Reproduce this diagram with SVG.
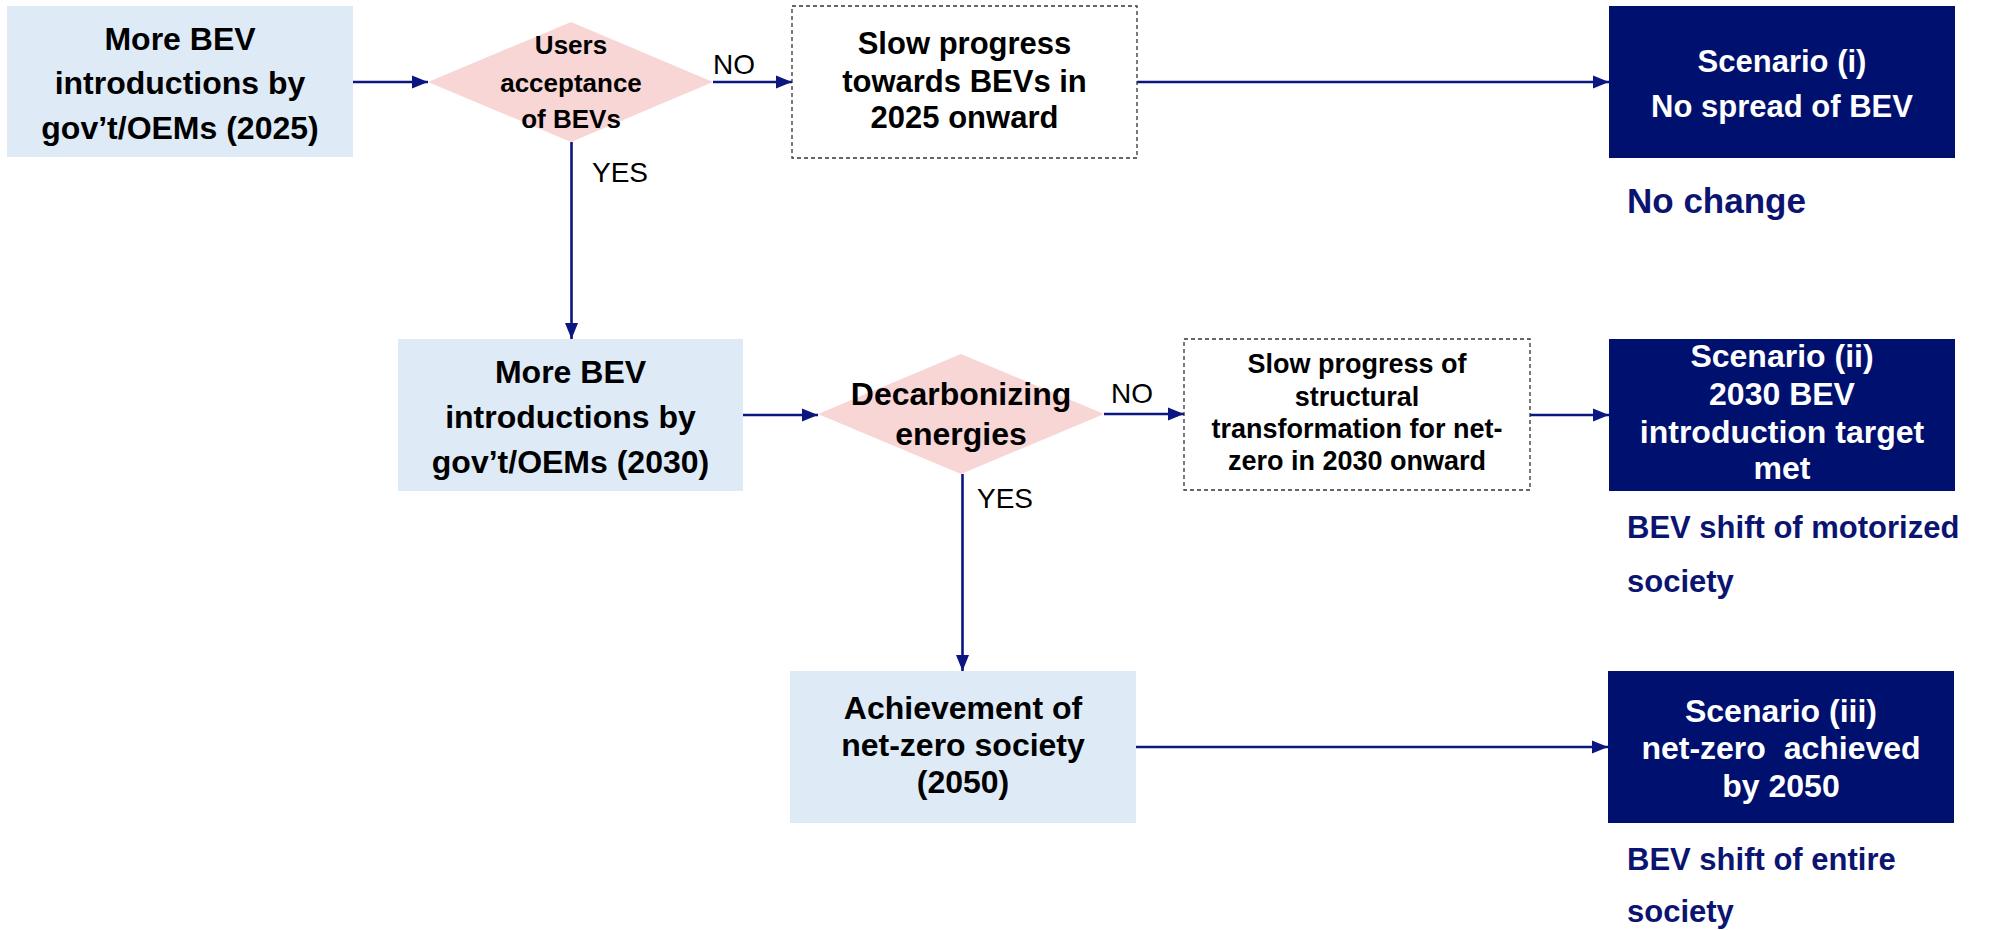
<svg xmlns="http://www.w3.org/2000/svg" width="1993" height="930" viewBox="0 0 1993 930">
<defs>
<marker id="ah" markerUnits="userSpaceOnUse" markerWidth="16" markerHeight="14" refX="16" refY="7" orient="auto">
<path d="M0,0.5 L16,7 L0,13.5 z" fill="#0B1680"/>
</marker>
<style>
text{font-family:"Liberation Sans",Arial,sans-serif;text-anchor:middle}
.b{font-weight:bold;fill:#000}
.w{font-weight:bold;fill:#fff}
.lbl{font-size:28px;fill:#000;text-anchor:start}
.out{font-weight:bold;fill:#0B1470;text-anchor:start;font-size:31px}
.lb{fill:#DEEBF7}
.dm{fill:#F7D6D5}
.dash{fill:#fff;stroke:#333;stroke-width:1.3;stroke-dasharray:4 3}
.sc{fill:#00106E}
.cn{stroke:#0B1680;stroke-width:2.6;fill:none}
</style>
</defs>
<rect width="1993" height="930" fill="#fff"/>
<g id="connectors">
<line class="cn" x1="353" y1="82" x2="428" y2="82" marker-end="url(#ah)"/>
<line class="cn" x1="713" y1="82" x2="792" y2="82" marker-end="url(#ah)"/>
<line class="cn" x1="1137" y1="82" x2="1609" y2="82" marker-end="url(#ah)"/>
<line class="cn" x1="571.5" y1="142" x2="571.5" y2="339" marker-end="url(#ah)"/>
<line class="cn" x1="743" y1="415" x2="818" y2="415" marker-end="url(#ah)"/>
<line class="cn" x1="1104" y1="414" x2="1184" y2="414" marker-end="url(#ah)"/>
<line class="cn" x1="1530" y1="415" x2="1609" y2="415" marker-end="url(#ah)"/>
<line class="cn" x1="962.5" y1="474" x2="962.5" y2="671" marker-end="url(#ah)"/>
<line class="cn" x1="1136" y1="747" x2="1608" y2="747" marker-end="url(#ah)"/>
<text class="lbl" x="713" y="74">NO</text>
<text class="lbl" x="592" y="182">YES</text>
<text class="lbl" x="1111" y="403">NO</text>
<text class="lbl" x="977" y="508">YES</text>
</g>
<g id="box1">
<rect class="lb" x="7" y="6" width="346" height="151"/>
<text class="b" font-size="32"><tspan x="180" y="50">More BEV</tspan><tspan x="180" y="94">introductions by</tspan><tspan x="180" y="139">gov’t/OEMs (2025)</tspan></text>
</g>
<g id="decision1">
<polygon class="dm" points="428,82 571,22 713,82 571,142"/>
<text class="b" font-size="26"><tspan x="571" y="54">Users</tspan><tspan x="571" y="92">acceptance</tspan><tspan x="571" y="128">of BEVs</tspan></text>
</g>
<g id="slow1">
<rect class="dash" x="792" y="6" width="345" height="152"/>
<text class="b" font-size="31"><tspan x="964.5" y="54">Slow progress</tspan><tspan x="964.5" y="92">towards BEVs in</tspan><tspan x="964.5" y="128">2025 onward</tspan></text>
</g>
<g id="scenario1">
<rect class="sc" x="1609" y="6" width="346" height="152"/>
<text class="w" font-size="31"><tspan x="1782" y="72">Scenario (i)</tspan><tspan x="1782" y="117">No spread of BEV</tspan></text>
<text class="out" x="1627" y="213" font-size="35" style="font-size:35px">No change</text>
</g>
<g id="box2">
<rect class="lb" x="398" y="339" width="345" height="152"/>
<text class="b" font-size="32"><tspan x="570.5" y="383">More BEV</tspan><tspan x="570.5" y="428">introductions by</tspan><tspan x="570.5" y="473">gov’t/OEMs (2030)</tspan></text>
</g>
<g id="decision2">
<polygon class="dm" points="818,414 961,354 1104,414 961,474"/>
<text class="b" font-size="32"><tspan x="961" y="405">Decarbonizing</tspan><tspan x="961" y="445">energies</tspan></text>
</g>
<g id="slow2">
<rect class="dash" x="1184" y="339" width="346" height="151"/>
<text class="b" font-size="27"><tspan x="1357" y="373">Slow progress of</tspan><tspan x="1357" y="406">structural</tspan><tspan x="1357" y="438">transformation for net-</tspan><tspan x="1357" y="470">zero in 2030 onward</tspan></text>
</g>
<g id="scenario2">
<rect class="sc" x="1609" y="339" width="346" height="152"/>
<text class="w" font-size="32"><tspan x="1782" y="367">Scenario (ii)</tspan><tspan x="1782" y="405">2030 BEV</tspan><tspan x="1782" y="443">introduction target</tspan><tspan x="1782" y="479">met</tspan></text>
<text class="out"><tspan x="1627" y="538">BEV shift of motorized</tspan><tspan x="1627" y="592">society</tspan></text>
</g>
<g id="box3">
<rect class="lb" x="790" y="671" width="346" height="152"/>
<text class="b" font-size="32"><tspan x="963" y="719">Achievement of</tspan><tspan x="963" y="756">net-zero society</tspan><tspan x="963" y="793">(2050)</tspan></text>
</g>
<g id="scenario3">
<rect class="sc" x="1608" y="671" width="346" height="152"/>
<text class="w" font-size="32" style="white-space:pre"><tspan x="1781" y="722">Scenario (iii)</tspan><tspan x="1781" y="759">net-zero  achieved</tspan><tspan x="1781" y="797">by 2050</tspan></text>
<text class="out"><tspan x="1627" y="870">BEV shift of entire</tspan><tspan x="1627" y="922">society</tspan></text>
</g>
</svg>
